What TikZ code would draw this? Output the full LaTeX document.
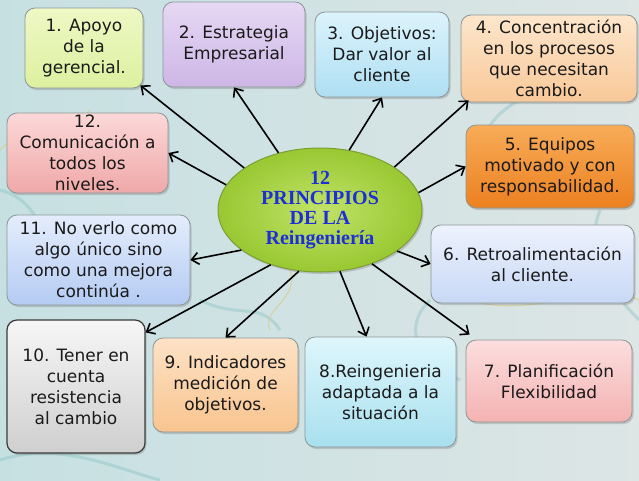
\documentclass[tikz,border=0pt]{standalone}
\usepackage{fontspec}
\setmainfont{DejaVu Sans}
\newfontfamily\titlefont{Liberation Serif}
\usetikzlibrary{arrows.meta,shadows,shapes.geometric}
\definecolor{bgL}{HTML}{C6E0E2}
\definecolor{bgR}{HTML}{DDE5E5}
\definecolor{swirl}{HTML}{8EC4C6}
\definecolor{swirlY}{HTML}{D8CC90}
\definecolor{bord}{HTML}{8C9696}
\definecolor{bordD}{HTML}{3A3A3A}
\definecolor{txt}{HTML}{1A1A1A}
\definecolor{titleblue}{HTML}{1C2FD8}
\definecolor{aT}{HTML}{EEF8C4}\definecolor{aB}{HTML}{DDF0A0}
\definecolor{bT}{HTML}{E6D8F4}\definecolor{bB}{HTML}{CDB6E6}
\definecolor{cT}{HTML}{DCF3FC}\definecolor{cB}{HTML}{AEDFF2}
\definecolor{dT}{HTML}{FDE6CC}\definecolor{dB}{HTML}{F8C898}
\definecolor{eT}{HTML}{F8AC58}\definecolor{eB}{HTML}{EC8020}
\definecolor{fT}{HTML}{EDF2FD}\definecolor{fB}{HTML}{C8D8F6}
\definecolor{gT}{HTML}{FCDEDE}\definecolor{gB}{HTML}{F4B2B2}
\definecolor{hT}{HTML}{DEF6FC}\definecolor{hB}{HTML}{A8E0EE}
\definecolor{iT}{HTML}{FDE2C6}\definecolor{iB}{HTML}{F8C48E}
\definecolor{jT}{HTML}{F6F6F6}\definecolor{jB}{HTML}{CFCFCF}
\definecolor{kT}{HTML}{E4EDFC}\definecolor{kB}{HTML}{B4CBF3}
\definecolor{lT}{HTML}{FCD8D8}\definecolor{lB}{HTML}{F0A8A8}
\definecolor{elIn}{HTML}{C2E268}\definecolor{elOut}{HTML}{98C832}
\definecolor{elBord}{HTML}{7E9E34}
\begin{document}
\begin{tikzpicture}[x=1pt,y=-1pt,
  box/.style={draw=bord, line width=0.8pt, rounded corners=10pt, align=center,
    font=\fontsize{17}{21}\selectfont, text=txt, inner sep=2pt,
    drop shadow={shadow xshift=1.5pt,shadow yshift=-2pt,opacity=0.35}},
  arr/.style={-{Straight Barb[length=7pt,width=12pt]}, line width=1.6pt, black},
  swl/.style={draw=swirl, line width=3pt, opacity=0.45},
  swly/.style={draw=swirlY, line width=1.2pt, opacity=0.7}]
\useasboundingbox (0,0) rectangle (639,480);
\shade[left color=bgL, right color=bgR] (0,0) rectangle (639,480);
% decorative swirls
\draw[swl] (0,190) .. controls (40,200) and (60,250) .. (20,290);
\draw[swl] (0,460) .. controls (60,440) and (120,470) .. (160,480);
\draw[swl] (520,100) .. controls (480,120) and (470,160) .. (500,180);
\draw[swl] (600,210) .. controls (580,260) and (620,300) .. (639,320);
\draw[swl] (430,300) .. controls (400,330) and (420,360) .. (460,380);
\draw[swl] (200,300) .. controls (240,320) and (260,300) .. (280,330);
\draw[swly] (470,300) .. controls (530,320) and (600,280) .. (639,300);
\draw[swly] (0,150) .. controls (30,120) and (70,140) .. (90,110);
\draw[swly] (290,270) .. controls (300,300) and (260,310) .. (270,330);

\node[box, top color=aT, bottom color=aB, minimum width=118pt, minimum height=80pt] (b1) at (84,48) {1. Apoyo\\de la\\gerencial.};
\node[box, top color=bT, bottom color=bB, minimum width=142pt, minimum height=85pt] (b2) at (234,44.5) {2. Estrategia\\Empresarial};
\node[box, top color=cT, bottom color=cB, minimum width=134pt, minimum height=85pt] (b3) at (382,54.5) {3. Objetivos:\\Dar valor al\\cliente};
\node[box, top color=dT, bottom color=dB, minimum width=176pt, minimum height=87pt] (b4) at (549,58.5) {4. Concentración\\en los procesos\\que necesitan\\cambio.};
\node[box, top color=eT, bottom color=eB, minimum width=168pt, minimum height=83pt] (b5) at (550,166.5) {5. Equipos\\motivado y con\\responsabilidad.};
\node[box, top color=fT, bottom color=fB, minimum width=203pt, minimum height=78pt] (b6) at (532.5,264) {6. Retroalimentación\\al cliente.};
\node[box, top color=gT, bottom color=gB, minimum width=166pt, minimum height=82pt] (b7) at (549,381) {7. Planificación\\Flexibilidad};
\node[box, top color=hT, bottom color=hB, minimum width=151pt, minimum height=110pt] (b8) at (380.5,392) {8.Reingenieria\\adaptada a la\\situación};
\node[box, top color=iT, bottom color=iB, minimum width=145pt, minimum height=94pt] (b9) at (225.5,385) {9. Indicadores\\medición de\\objetivos.};
\node[box, draw=bordD, line width=1.2pt, top color=jT, bottom color=jB, minimum width=138pt, minimum height=133pt] (b10) at (76,386.5) {10. Tener en\\cuenta\\resistencia\\al cambio};
\node[box, top color=kT, bottom color=kB, minimum width=183pt, minimum height=90pt] (b11) at (98.5,260) {11. No verlo como\\algo único sino\\como una mejora\\continúa .};
\node[box, top color=lT, bottom color=lB, minimum width=161pt, minimum height=80pt] (b12) at (87.5,153) {12.\\Comunicación a\\todos los\\niveles.};

\node[ellipse, draw=elBord, line width=1pt, inner color=elIn, outer color=elOut,
  minimum width=204pt, minimum height=124pt, align=center, text=titleblue,
  font=\titlefont\bfseries\fontsize{20}{20}\selectfont,
  drop shadow={shadow xshift=1.5pt,shadow yshift=-2pt,opacity=0.35}] (c) at (320,210)
  {12\\PRINCIPIOS\\DE LA\\Reingeniería};

\draw[arr] (c.151) -- ([shift={(-3pt,3pt)}]b1.south east);
\draw[arr] (c.126) -- (b2.south);
\draw[arr] (c.64) -- (b3.south);
\draw[arr] (c.30) -- ([shift={(8pt,2pt)}]b4.south west);
\draw[arr] (c.10) -- (b5.west);
\draw[arr] (c.-28) -- (b6.west);
\draw[arr] (c.-46) -- ([shift={(4pt,5pt)}]b7.north west);
\draw[arr] (c.-72) -- ([xshift=-14pt]b8.north);
\draw[arr] (c.251) -- (b9.north);
\draw[arr] (c.228) -- ([yshift=-13pt]b10.north east);
\draw[arr] (c.207) -- (b11.east);
\draw[arr] (c.165) -- (b12.east);
\end{tikzpicture}
\end{document}
